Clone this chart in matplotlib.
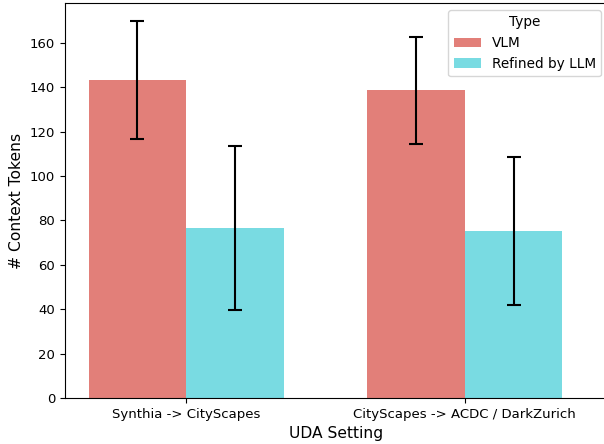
import matplotlib
matplotlib.use("Agg")
import matplotlib.pyplot as plt
import numpy as np
import seaborn as sns

settings = ["Synthia -> CityScapes", "CityScapes -> ACDC / DarkZurich"]
types = ["VLM", "Refined by LLM"]
vlm_mean = [143.3, 138.7]
vlm_err = [26.6, 24.1]
llm_mean = [76.5, 75.3]
llm_err = [37.0, 33.4]

colors = sns.color_palette("hls", 2)

fig = plt.figure(figsize=(6.04, 4.44), dpi=100)
ax = fig.add_axes([65 / 604, 46 / 444, 543 / 604, 395 / 444])

x = np.arange(len(settings))
w = 0.35
err_kw = dict(ecolor="black", elinewidth=1.5, capsize=5, capthick=1.5)

ax.bar(x - w / 2, vlm_mean, w, yerr=vlm_err, color=colors[0], alpha=0.8,
       label=types[0], error_kw=err_kw)
ax.bar(x + w / 2, llm_mean, w, yerr=llm_err, color=colors[1], alpha=0.8,
       label=types[1], error_kw=err_kw)

ax.set_xticks(x)
ax.set_xticklabels(settings, fontsize=9.5)
ax.tick_params(axis="y", labelsize=9.5)
ax.set_xlim(-0.435, 1.514)
ax.set_ylim(0, 178)
ax.set_xlabel("UDA Setting", fontsize=11.2)
ax.set_ylabel("# Context Tokens", fontsize=11.2)
ax.legend(title="Type", loc="upper right", fontsize=9.8, title_fontsize=9.8)

fig.savefig("out.png", dpi=100)
